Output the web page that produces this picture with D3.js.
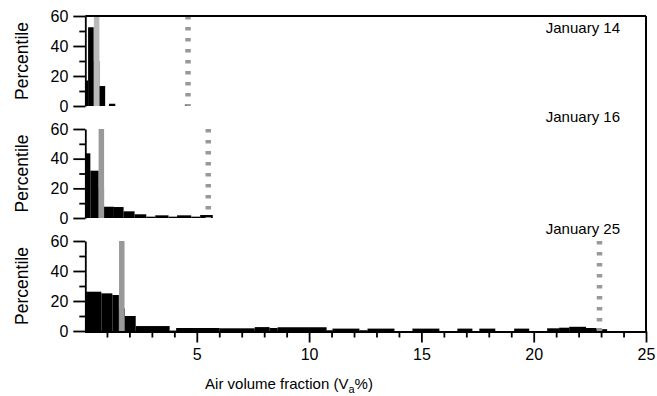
<!DOCTYPE html>
<html>
<head>
<meta charset="utf-8">
<script src="https://cdn.jsdelivr.net/npm/d3@7"></script>
<style>
  body { margin: 0; background: #fff; }
  svg { display: block; }
</style>
</head>
<body>
<div id="chart"></div>
<script>
// --- data (x in Va %, y in percentile) ---
const panelLabels = ['January 14', 'January 16', 'January 25'];

const jan14Edges = [0.04, 0.16, 0.41, 0.66, 0.92, 1.09, 1.37, 4.47, 4.6];
const jan14Values = [17, 52.5, 30, 13.3, 0, 1.5, 0, 1];

const jan16Edges = [0.04, 0.26, 0.63, 0.87, 1.31, 1.74, 2.23, 2.75, 3.15, 3.74, 4.12, 4.75, 5.15, 5.71];
const jan16Values = [43.6, 31.9, 20, 7.6, 7.4, 4.5, 2.5, 0.9, 1.8, 0.9, 1.8, 0.9, 2];

const jan25Edges = [0.04, 0.75, 1.24, 1.53, 1.79, 2.28, 3.79, 4.08, 6.02, 7.58, 8.24, 8.6, 10.78, 11.04,
  12.24, 12.6, 13.8, 14.6, 15.8, 16.6, 17.27, 17.58, 18.29, 19.13, 19.8, 20.6, 21.13, 21.58, 22.33,
  22.78, 23.04, 23.27];
const jan25Values = [26.2, 25.1, 24, 15, 10, 3.3, 0.3, 2.0, 1.8, 2.6, 2.0, 2.5, 0.5, 1.6, 0.5, 1.6, 0,
  1.6, 0, 1.6, 0, 1.6, 0, 1.6, 0, 1.8, 2.2, 2.8, 2.0, 1.6, 1.2];

const solidLines = [0.54, 0.75, 1.66];    // grey solid marker per panel
const dottedLines = [4.61, 5.51, 22.93];  // grey dotted marker per panel

const xMajorTicks = [5, 10, 15, 20, 25];
const xMinorTicks = d3.range(1, 25).filter(v => v % 5 !== 0);
const yMajorTicks = [0, 20, 40, 60];
const yMinorTicks = [10, 30, 50];

// --- layout ---
const W = 657, H = 396;
const font = '"Liberation Sans", Arial, Helvetica, sans-serif';
const left = 85.3, right = 646;
const panelsPx = [ { y0: 106, y1: 16 }, { y0: 218, y1: 129 }, { y0: 331, y1: 241 } ];
const lightGrey = ['#b9b9b9', '#999', '#999'];

const panels = [
  { edges: jan14Edges, values: jan14Values },
  { edges: jan16Edges, values: jan16Values },
  { edges: jan25Edges, values: jan25Values }
];

const svg = d3.select('#chart').append('svg').attr('width', W).attr('height', H);

const x = d3.scaleLinear().domain([0, 25]).range([84.5, right]);

panels.forEach((p, i) => {
  const y = d3.scaleLinear().domain([0, 60]).range([panelsPx[i].y0, panelsPx[i].y1]);
  const g = svg.append('g');

  const bins = p.values.map((v, k) => ({ x0: p.edges[k], x1: p.edges[k + 1], v }))
    .filter(b => b.v > 0);

  g.selectAll('rect.bar')
    .data(bins)
    .join('rect')
    .attr('class', 'bar')
    .attr('x', d => x(d.x0))
    .attr('width', d => x(d.x1) - x(d.x0))
    .attr('y', d => y(d.v))
    .attr('height', d => y(0) - y(d.v))
    .attr('fill', '#000');

  // solid grey marker
  g.append('line')
    .attr('x1', x(solidLines[i])).attr('x2', x(solidLines[i]))
    .attr('y1', y(0)).attr('y2', y(60))
    .attr('stroke', lightGrey[i])
    .attr('stroke-width', 5.5);

  // dotted grey marker
  g.append('line')
    .attr('x1', x(dottedLines[i])).attr('x2', x(dottedLines[i]))
    .attr('y1', y(60)).attr('y2', y(0))
    .attr('stroke', '#999')
    .attr('stroke-width', 5.5)
    .attr('stroke-dasharray', '3.5,7.5');

  // y axis, major + minor ticks
  const yAx = g.append('g').attr('transform', `translate(${left},0)`)
    .call(d3.axisLeft(y).tickValues(yMajorTicks).tickSize(12).tickSizeOuter(0).tickPadding(5));
  g.append('g').attr('transform', `translate(${left},0)`)
    .call(d3.axisLeft(y).tickValues(yMinorTicks).tickSize(6).tickSizeOuter(0).tickFormat(''))
    .call(a => a.select('.domain').remove());
  g.selectAll('path, line').filter(function () { return this.closest('g.tick') || this.classList.contains('domain'); })
    .attr('stroke', '#000').attr('stroke-width', 1.8);
  yAx.selectAll('text')
    .style('font-family', font).style('font-size', '16px').attr('fill', '#000');

  g.append('text')
    .attr('transform', `translate(28,${(panelsPx[i].y0 + panelsPx[i].y1) / 2}) rotate(-90)`)
    .attr('text-anchor', 'middle')
    .style('font-family', font).style('font-size', '17.5px')
    .text('Percentile');

  g.append('text')
    .attr('x', 620)
    .attr('y', [33, 122, 234][i])
    .attr('text-anchor', 'end')
    .style('font-family', font).style('font-size', '15px')
    .text(panelLabels[i]);
});

// frame: top and right
svg.append('line').attr('x1', left).attr('x2', right).attr('y1', 16).attr('y2', 16)
  .attr('stroke', '#000').attr('stroke-width', 2);
svg.append('line').attr('x1', right).attr('x2', right).attr('y1', 16).attr('y2', 332)
  .attr('stroke', '#000').attr('stroke-width', 2);

// bottom x axis
const xAx = svg.append('g').attr('transform', 'translate(0,331.5)')
  .call(d3.axisBottom(x).tickValues(xMajorTicks).tickSize(11).tickSizeOuter(0).tickPadding(6.5));
svg.append('g').attr('transform', 'translate(0,331.5)')
  .call(d3.axisBottom(x).tickValues(xMinorTicks).tickSize(6).tickSizeOuter(0).tickFormat(''))
  .call(a => a.select('.domain').remove())
  .selectAll('line').attr('stroke', '#000').attr('stroke-width', 1.8);
xAx.selectAll('path, line').attr('stroke', '#000').attr('stroke-width', 1.8);
xAx.selectAll('text').style('font-family', font).style('font-size', '16px').attr('fill', '#000');

const title = svg.append('text')
  .attr('x', 289).attr('y', 389)
  .attr('text-anchor', 'middle')
  .style('font-family', font).style('font-size', '15px');
title.append('tspan').text('Air volume fraction (V');
title.append('tspan').attr('dy', 4).style('font-size', '11px').text('a');
title.append('tspan').attr('dy', -4).text('%)');
</script>
</body>
</html>
